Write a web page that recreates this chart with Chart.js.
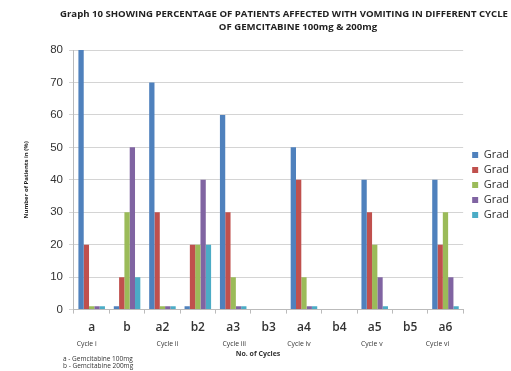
<!DOCTYPE html>
<html>
<head>
<meta charset="utf-8">
<script src="https://cdn.jsdelivr.net/npm/chart.js@4.4.1/dist/chart.umd.min.js"></script>
<style>
html,body{margin:0;padding:0;background:#fff;}
#wrap{width:511px;height:371px;position:relative;}
</style>
</head>
<body>
<div id="wrap"><canvas id="c" width="511" height="371"></canvas></div>
<script>
const categories = ['a','b','a2','b2','a3','b3','a4','b4','a5','b5','a6'];
const seriesNames = ['Grad','Grad','Grad','Grad','Grad'];
const grade1 = [80, 1, 70, 1, 60, 0, 50, 0, 40, 0, 40];
const grade2 = [20, 10, 30, 20, 30, 0, 40, 0, 30, 0, 20];
const grade3 = [1, 30, 1, 20, 10, 0, 10, 0, 20, 0, 30];
const grade4 = [1, 50, 1, 40, 1, 0, 1, 0, 10, 0, 10];
const grade5 = [1, 10, 1, 20, 1, 0, 1, 0, 1, 0, 1];
const cycleLabels = ['Cycle i','Cycle ii','Cycle iii','Cycle iv','Cycle v','Cycle vi'];
const cycleCategories = ['a','a2','a3','a4','a5','a6'];
const yTicks = [0,10,20,30,40,50,60,70,80];
const titleLines = ['Graph 10 SHOWING PERCENTAGE OF PATIENTS AFFECTED WITH VOMITING IN DIFFERENT CYCLE','OF GEMCITABINE 100mg & 200mg'];
const footnotes = ['a - Gemcitabine 100mg','b - Gemcitabine 200mg'];
const xTitle = 'No. of Cycles';
const yTitle = 'Number of Patients in (%)';

const colors = ['#4F81BD','#C0504D','#9BBB59','#8064A2','#4BACC6'];
const allSeries = [grade1, grade2, grade3, grade4, grade5];

const extraText = {
  id: 'extraText',
  afterLayout(chart) {
    const lg = chart.legend;
    if (lg) { lg.left += 5; lg.right += 5; lg.top -= 11; lg.bottom -= 11; }
  },
  afterDraw(chart) {
    const ctx = chart.ctx;
    const xs = chart.scales.x;
    ctx.save();
    ctx.fillStyle = '#222';
    ctx.textBaseline = 'middle';
    ctx.textAlign = 'center';
    ctx.font = 'bold 9.6px "Open Sans", sans-serif';
    ctx.fillText(titleLines[0], 284, 14);
    ctx.fillText(titleLines[1], 298, 27);
    ctx.fillStyle = '#333';
    ctx.font = '6.8px "Open Sans", sans-serif';
    const offs = [-5, 5, 1, -5, -3, -8];
    cycleLabels.forEach((t, i) => {
      const px = xs.getPixelForValue(categories.indexOf(cycleCategories[i]));
      ctx.fillText(t, px + offs[i], 344);
    });
    ctx.font = 'bold 7px "Open Sans", sans-serif';
    ctx.fillText(xTitle, 258, 354);
    ctx.textAlign = 'left';
    ctx.font = '6.5px "Open Sans", sans-serif';
    ctx.fillText(footnotes[0], 63, 359);
    ctx.fillText(footnotes[1], 63, 366);
    ctx.restore();
  }
};

new Chart(document.getElementById('c'), {
  type: 'bar',
  data: {
    labels: categories,
    datasets: allSeries.map((d, i) => ({
      label: seriesNames[i],
      data: d,
      backgroundColor: colors[i],
      borderWidth: 0,
      barPercentage: 1.0,
      categoryPercentage: 0.75
    }))
  },
  options: {
    responsive: false,
    animation: false,
    devicePixelRatio: 1,
    layout: { padding: { left: 19, right: -3, top: 50, bottom: 29 } },
    plugins: {
      title: { display: false },
      legend: {
        position: 'right',
        labels: {
          boxWidth: 6,
          boxHeight: 6,
          padding: 4,
          font: { family: '"Open Sans", sans-serif', size: 11 },
          color: '#333'
        }
      },
      tooltip: { enabled: false }
    },
    scales: {
      x: {
        grid: { drawOnChartArea: false, offset: true, tickLength: 4, color: '#bbb' },
        border: { color: '#bbb' },
        ticks: { font: { family: '"Open Sans", sans-serif', size: 12, weight: '600' }, color: '#333', padding: 7 }
      },
      y: {
        min: 0, max: 80,
        afterBuildTicks(scale) { scale.ticks = yTicks.map(v => ({ value: v })); },
        grid: { color: '#d4d4d4', tickLength: 5 },
        border: { color: '#bbb' },
        ticks: { font: { family: '"Liberation Sans", Arial, sans-serif', size: 11.5 }, color: '#333', padding: 6 },
        title: { display: true, text: yTitle, font: { family: '"Open Sans", sans-serif', size: 6, weight: 'bold' }, color: '#222', padding: { bottom: 14 } }
      }
    }
  },
  plugins: [extraText]
});
</script>
</body>
</html>
